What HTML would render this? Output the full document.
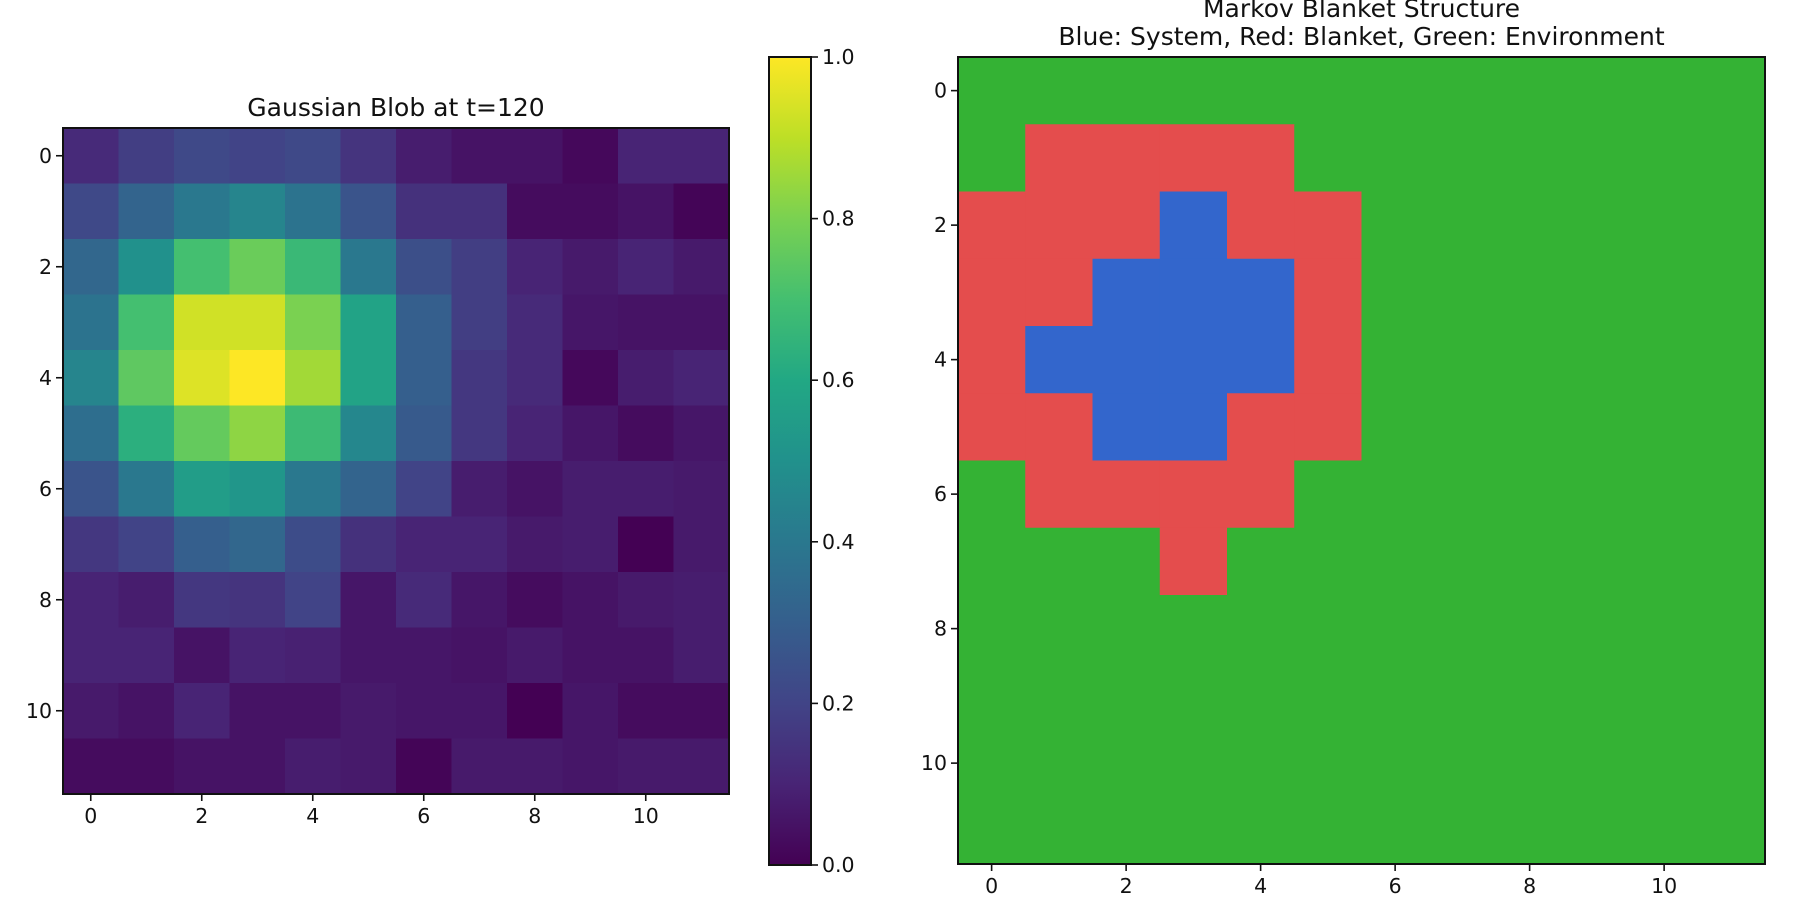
<!DOCTYPE html>
<html><head><meta charset="utf-8">
<style>
html,body{margin:0;padding:0;background:#fff;}
svg{display:block;font-family:"DejaVu Sans","Liberation Sans",sans-serif;}
</style></head>
<body>
<svg id="fig" width="1800" height="900" viewBox="0 0 1800 900" xmlns="http://www.w3.org/2000/svg">
<rect width="1800" height="900" fill="#fff"/>
<g id="left"></g>
<g id="cbar"></g>
<g id="right"></g>
</svg>
<script>
const blobRows = [
[0.12,0.18,0.22,0.20,0.22,0.15,0.08,0.05,0.05,0.02,0.10,0.10],
[0.22,0.32,0.40,0.45,0.38,0.26,0.14,0.14,0.03,0.03,0.05,0.01],
[0.33,0.50,0.70,0.77,0.67,0.40,0.24,0.18,0.10,0.07,0.10,0.07],
[0.38,0.70,0.93,0.93,0.80,0.58,0.30,0.18,0.12,0.06,0.05,0.05],
[0.45,0.75,0.95,1.00,0.86,0.58,0.30,0.16,0.12,0.02,0.08,0.10],
[0.36,0.63,0.76,0.83,0.68,0.46,0.28,0.16,0.10,0.06,0.03,0.06],
[0.26,0.40,0.55,0.52,0.40,0.32,0.20,0.08,0.05,0.08,0.08,0.07],
[0.16,0.20,0.30,0.33,0.23,0.14,0.10,0.10,0.07,0.08,0.00,0.07],
[0.10,0.08,0.16,0.15,0.20,0.06,0.12,0.06,0.03,0.05,0.07,0.08],
[0.10,0.10,0.05,0.10,0.09,0.06,0.06,0.05,0.07,0.05,0.05,0.08],
[0.07,0.05,0.10,0.05,0.05,0.07,0.06,0.06,0.00,0.06,0.03,0.03],
[0.03,0.03,0.05,0.05,0.08,0.07,0.01,0.07,0.07,0.06,0.07,0.07]
];
const blanketRows = [
[0,0,0,0,0,0,0,0,0,0,0,0],
[0,1,1,1,1,0,0,0,0,0,0,0],
[1,1,1,2,1,1,0,0,0,0,0,0],
[1,1,2,2,2,1,0,0,0,0,0,0],
[1,2,2,2,2,1,0,0,0,0,0,0],
[1,1,2,2,1,1,0,0,0,0,0,0],
[0,1,1,1,1,0,0,0,0,0,0,0],
[0,0,0,1,0,0,0,0,0,0,0,0],
[0,0,0,0,0,0,0,0,0,0,0,0],
[0,0,0,0,0,0,0,0,0,0,0,0],
[0,0,0,0,0,0,0,0,0,0,0,0],
[0,0,0,0,0,0,0,0,0,0,0,0]
];
const gridTicks = [0,2,4,6,8,10];
const cbarTicks = [0.0,0.2,0.4,0.6,0.8,1.0];
const classColors = ["#34b234","#e44d4d","#3366cc"];

const NS="http://www.w3.org/2000/svg";
const VIR=[[68,1,84],[72,36,117],[65,68,135],[53,95,141],[42,120,142],[33,145,140],[34,168,132],[68,191,112],[122,209,81],[189,223,38],[253,231,37]];
function viridis(v){v=Math.max(0,Math.min(1,v))*10;const i=Math.min(9,Math.floor(v)),f=v-i;const a=VIR[i],b=VIR[i+1];
return `rgb(${Math.round(a[0]+(b[0]-a[0])*f)},${Math.round(a[1]+(b[1]-a[1])*f)},${Math.round(a[2]+(b[2]-a[2])*f)})`;}
function el(tag,attrs,parent){const e=document.createElementNS(NS,tag);for(const k in attrs)e.setAttribute(k,attrs[k]);parent.appendChild(e);return e;}

function drawGrid(g,rows,x0,y0,size,colorFn,title,titleY){
  const n=rows.length, cw=size/n;
  const sx=c=>x0+(c+0.5)*cw, sy=r=>y0+(r+0.5)*cw;
  rows.forEach((row,r)=>row.forEach((v,c)=>{
    const rc=el('rect',{x:sx(c)-cw/2,y:sy(r)-cw/2,width:cw+0.6,height:cw+0.6,fill:colorFn(v)},g);
    
    
  }));
  el('rect',{x:x0,y:y0,width:size,height:size,fill:'none',stroke:'#111','stroke-width':2},g);
  gridTicks.forEach(t=>{
    el('line',{x1:sx(t),x2:sx(t),y1:y0+size,y2:y0+size+7,stroke:'#111','stroke-width':1.6},g);
    const tx=el('text',{x:sx(t),y:y0+size+29,'font-size':20.5,'text-anchor':'middle',fill:'#111'},g);
    tx.textContent=t;
    
    
    el('line',{x1:x0-7,x2:x0,y1:sy(t),y2:sy(t),stroke:'#111','stroke-width':1.6},g);
    const ty=el('text',{x:x0-11,y:sy(t)+7,'font-size':20.5,'text-anchor':'end',fill:'#111'},g);
    ty.textContent=t;
    
    
  });
  title.forEach((line,i)=>{
    const tt=el('text',{x:x0+size/2,y:titleY+i*28,'font-size':25,'text-anchor':'middle',fill:'#111'},g);
    tt.textContent=line;
    
    
  });
}
drawGrid(document.getElementById('left'),blobRows,63,128,666,viridis,["Gaussian Blob at t=120"],116);
drawGrid(document.getElementById('right'),blanketRows,958,57,807,v=>classColors[v],["Markov Blanket Structure","Blue: System, Red: Blanket, Green: Environment"],17);

(function(){
  const g=document.getElementById('cbar');
  const x0=769,w=42,y0=57,h=808;
  const defs=el('defs',{},g);
  const lg=el('linearGradient',{id:'vg',x1:0,y1:1,x2:0,y2:0},defs);
  VIR.forEach((c,i)=>el('stop',{offset:i/10,'stop-color':`rgb(${c[0]},${c[1]},${c[2]})`},lg));
  el('rect',{x:x0,y:y0,width:w,height:h,fill:'url(#vg)'},g);
  el('rect',{x:x0,y:y0,width:w,height:h,fill:'none',stroke:'#111','stroke-width':2},g);
  const sy=v=>y0+h-v*h;
  cbarTicks.forEach(t=>{
    el('line',{x1:x0+w,x2:x0+w+7,y1:sy(t),y2:sy(t),stroke:'#111','stroke-width':1.6},g);
    const tx=el('text',{x:x0+w+11,y:sy(t)+7,'font-size':20.5,fill:'#111'},g);
    tx.textContent=t.toFixed(1);
    
    
  });
})();
</script>
</body></html>
